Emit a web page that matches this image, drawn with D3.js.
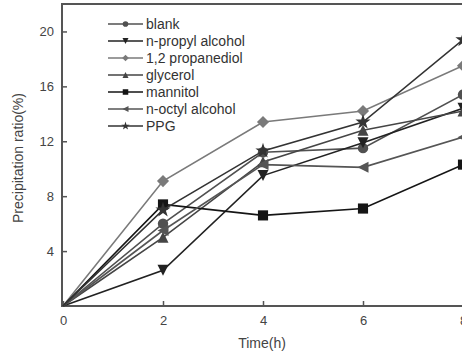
<!DOCTYPE html>
<html>
<head>
<meta charset="utf-8">
<script src="https://cdn.jsdelivr.net/npm/d3@7"></script>
<style>
  body { margin: 0; background: #fff; }
  svg { display: block; font-family: Arial, "Liberation Sans", sans-serif; }
</style>
</head>
<body>
<div id="chart"></div>
<script>
// data
var times = [0, 2, 4, 6, 8];
var seriesNames = ["blank", "n-propyl alcohol", "1,2 propanediol", "glycerol", "mannitol", "n-octyl alcohol", "PPG"];
var blank       = [0, 6.0, 11.2, 11.5, 15.4];
var nPropyl     = [0, 2.6, 9.5, 11.9, 14.4];
var propanediol = [0, 9.1, 13.4, 14.2, 17.5];
var glycerol    = [0, 5.0, 10.5, 12.8, 14.2];
var mannitol    = [0, 7.4, 6.6, 7.1, 10.3];
var nOctyl      = [0, 5.5, 10.3, 10.1, 12.3];
var ppg         = [0, 7.0, 11.3, 13.4, 19.4];
var yTicks = [4, 8, 12, 16, 20];
var xTicks = [0, 2, 4, 6, 8];

var seriesValues = [blank, nPropyl, propanediol, glycerol, mannitol, nOctyl, ppg];
var seriesColor = ["#505050", "#222", "#7a7a7a", "#454545", "#151515", "#555", "#333"];
var seriesSymbol = ["circle", "down", "diamond", "up", "square", "left", "star"];

var width = 462, height = 354;
var svg = d3.select("#chart").append("svg")
    .attr("width", width)
    .attr("height", height);

var x = d3.scaleLinear().domain([0, 8]).range([63, 463]);
var y = d3.scaleLinear().domain([0, 22]).range([306, 4]);

// frame
svg.append("rect")
    .attr("x", 62).attr("y", 4)
    .attr("width", 440).attr("height", 302)
    .attr("fill", "none")
    .attr("stroke", "#555")
    .attr("stroke-width", 2);

// axes, ticks pointing inward
var xAxis = svg.append("g")
    .attr("transform", "translate(0,306)")
    .call(d3.axisBottom(x).tickValues(xTicks).tickSizeInner(-5).tickSizeOuter(0).tickPadding(10));
var yAxis = svg.append("g")
    .attr("transform", "translate(62,0)")
    .call(d3.axisLeft(y).tickValues(yTicks).tickSizeInner(-5).tickSizeOuter(0).tickPadding(8));
[xAxis, yAxis].forEach(function (g) {
    g.select(".domain").remove();
    g.selectAll("line").attr("stroke", "#555").attr("stroke-width", 1.5);
    g.selectAll("text").attr("fill", "#444").style("font-size", "13px");
});

// axis titles
svg.append("text")
    .attr("x", 262).attr("y", 348)
    .attr("text-anchor", "middle")
    .attr("fill", "#444")
    .style("font-size", "14px")
    .text("Time(h)");
svg.append("text")
    .attr("transform", "translate(23,158) rotate(-90)")
    .attr("text-anchor", "middle")
    .attr("fill", "#444")
    .style("font-size", "14px")
    .text("Precipitation ratio(%)");

// marker shapes
function symbolPath(kind, s) {
    var h = s / 2;
    if (kind === "circle") return d3.symbol(d3.symbolCircle, s * s * 0.7)();
    if (kind === "square") return d3.symbol(d3.symbolSquare, s * s * 0.85)();
    if (kind === "diamond") return "M0," + (-h * 1.1) + "L" + (h * 1.1) + ",0L0," + (h * 1.1) + "L" + (-h * 1.1) + ",0Z";
    if (kind === "up") return "M0," + (-h) + "L" + h + "," + h + "L" + (-h) + "," + h + "Z";
    if (kind === "down") return "M0," + h + "L" + h + "," + (-h) + "L" + (-h) + "," + (-h) + "Z";
    if (kind === "left") return "M" + (-h) + ",0L" + h + "," + (-h) + "L" + h + "," + h + "Z";
    if (kind === "star") return d3.symbol(d3.symbolStar, s * s * 0.6)();
}

var line = d3.line()
    .x(function (d, i) { return x(times[i]); })
    .y(function (d) { return y(d); });

seriesValues.forEach(function (vals, k) {
    var g = svg.append("g").attr("class", "series");
    g.append("path")
        .attr("d", line(vals))
        .attr("fill", "none")
        .attr("stroke", seriesColor[k])
        .attr("stroke-width", 1.6);
    g.selectAll("path.mark")
        .data(vals.slice(1))
        .enter().append("path")
        .attr("class", "mark")
        .attr("transform", function (d, i) { return "translate(" + x(times[i + 1]) + "," + y(d) + ")"; })
        .attr("d", symbolPath(seriesSymbol[k], 11))
        .attr("fill", seriesColor[k]);
});

// legend
var legend = svg.selectAll(".legendRow")
    .data(seriesNames)
    .enter().append("g")
    .attr("class", "legendRow")
    .attr("transform", function (d, i) { return "translate(108," + (24 + i * 17) + ")"; });
legend.append("line")
    .attr("x1", 0).attr("x2", 35)
    .attr("stroke", function (d, i) { return seriesColor[i]; })
    .attr("stroke-width", 1.6);
legend.append("path")
    .attr("transform", "translate(17.5,0)")
    .attr("d", function (d, i) { return symbolPath(seriesSymbol[i], 6); })
    .attr("fill", function (d, i) { return seriesColor[i]; });
legend.append("text")
    .attr("x", 38).attr("dy", "0.35em")
    .attr("fill", "#333")
    .style("font-size", "14px")
    .text(function (d) { return d; });
</script>
</body>
</html>
